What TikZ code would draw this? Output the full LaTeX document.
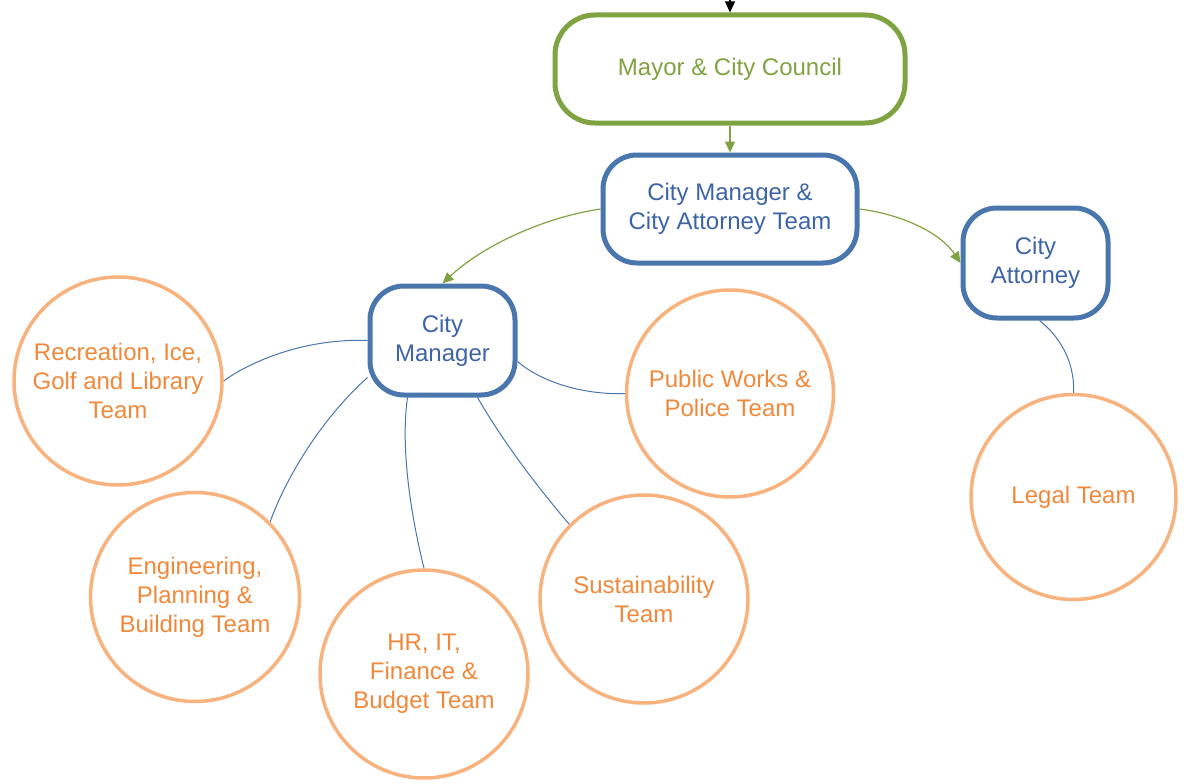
\documentclass[tikz,border=0pt]{standalone}
\usepackage{fontspec}
\setmainfont{Liberation Sans}
\usetikzlibrary{arrows.meta}
\definecolor{cgreen}{HTML}{7FA341}
\definecolor{cblue}{HTML}{4A76AE}
\definecolor{cbluetext}{HTML}{3D64A6}
\definecolor{corange}{HTML}{F8B27E}
\definecolor{corangetext}{HTML}{F0883A}
\begin{document}
\begin{tikzpicture}[x=1pt,y=-1pt,
  every node/.style={font=\fontsize{24}{29}\selectfont, align=center},
  greenbox/.style={draw=cgreen, line width=5pt, rounded corners=40pt, text=cgreen, inner sep=0pt},
  bluebox/.style={draw=cblue, line width=5pt, rounded corners=34pt, text=cbluetext, inner sep=0pt},
  team/.style={circle, draw=corange, line width=3.5pt, text=corangetext, minimum size=#1, inner sep=0pt},
  link/.style={draw=cblue, line width=1pt},
  garrow/.style={draw=cgreen, line width=1.2pt, -{Triangle[length=11pt,width=10pt]}},
]
\useasboundingbox (0,0) rectangle (1184,784);

% leadership boxes
\node[greenbox, minimum width=350pt, minimum height=108pt] (mayor) at (730,69) {\raisebox{-2pt}{Mayor \& City Council}};
\node[bluebox, minimum width=254pt, minimum height=108pt] (cmat) at (730,209) {City Manager \&\\City Attorney Team};
\node[bluebox, minimum width=145pt, minimum height=110pt] (ca) at (1035.5,263) {City\\Attorney};
\node[bluebox, minimum width=145pt, minimum height=109pt] (cm) at (442.5,340.5) {City\\Manager};

% team circles
\node[team=208pt] (rec) at (118,381) {Recreation, Ice,\\Golf and Library\\Team};
\node[team=209pt] (eng) at (195,597) {Engineering,\\Planning \&\\Building Team};
\node[team=208pt] (hr) at (424,674) {HR, IT,\\Finance \&\\Budget Team};
\node[team=208pt] (sus) at (644,599) {Sustainability\\Team};
\node[team=207pt] (pw) at (730,393.5) {Public Works \&\\Police Team};
\node[team=205pt] (legal) at (1073.5,497) {Legal Team};

% incoming line from above
\coordinate (top) at (730,0);
\draw[line width=1.2pt, -{Triangle[length=11pt,width=10pt]}] (top) -- (mayor.north);

% reporting arrows
\draw[garrow] (mayor.south) -- (cmat.north);
\draw[garrow] (cmat.west) .. controls (540,218) and (480,248) .. (cm.north);
\draw[garrow] (cmat.east) .. controls (900,214) and (940,232) .. (ca.west);

% team links
\draw[link] (cm.west) .. controls (300,338) and (245,365) .. (rec.east);
\draw[link] ([yshift=-37pt]cm.west) .. controls (320,420) and (285,480) .. (eng.north east);
\draw[link] ([xshift=-35pt]cm.south) .. controls (400,450) and (412,520) .. (hr.north);
\draw[link] ([xshift=35pt]cm.south) .. controls (505,445) and (540,490) .. (sus.north west);
\draw[link] ([yshift=-21pt]cm.east) .. controls (545,385) and (590,395) .. (pw.west);
\draw[link] ([xshift=4pt]ca.south) .. controls (1058,335) and (1075,360) .. (legal.north);
\end{tikzpicture}
\end{document}
